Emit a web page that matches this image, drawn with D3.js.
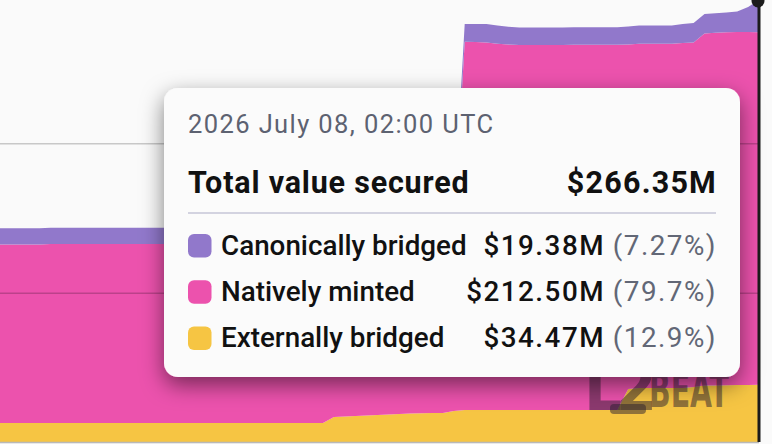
<!DOCTYPE html>
<html lang="en">
<head>
  <meta charset="UTF-8">
  <script src="https://d3js.org/d3.v7.min.js"></script>
  <title>Value secured</title>
  <style>
    body { margin: 0; background: #fafafa; }
    svg { display: block; font-family: Roboto, "Noto Sans", sans-serif; }
  </style>
</head>
<body>
  <svg width="772" height="444"></svg>
  <script>
    // hourly points, last one is the hovered point
    const startTime = new Date(Date.UTC(2026, 6, 5, 4));
    const endTime = new Date(Date.UTC(2026, 6, 8, 2));
    const times = d3.utcHour.range(startTime, d3.utcHour.offset(endTime, 1));

    // values in $M
    const externallyBridged = [
      11.45, 11.45, 11.45, 11.45, 11.45, 11.45, 11.45, 11.45, 11.45, 11.45,
      11.45, 11.45, 11.45, 11.45, 11.45, 11.45, 11.45, 11.45, 11.45, 11.45,
      11.45, 11.45, 11.45, 11.45, 11.45, 11.45, 11.45, 11.45, 11.45, 11.45,
      11.45, 15.06, 15.4, 15.7, 16.0, 16.3, 16.6, 16.9, 17.2, 17.3,
      17.5, 17.5, 18.7, 19.3, 19.3, 19.3, 19.3, 19.3, 19.3, 19.3,
      19.3, 19.3, 19.3, 19.3, 19.3, 19.3, 19.3, 19.3, 31.9, 32.5,
      32.5, 32.5, 32.5, 32.5, 33.1, 34.0, 34.1, 34.2, 34.3, 34.4,
      34.47
    ];
    const nativelyMinted = [
      107.55, 107.55, 107.55, 107.55, 107.55, 107.8, 107.8, 107.8, 107.8, 107.8,
      107.8, 107.8, 107.8, 107.8, 107.8, 107.8, 107.8, 107.8, 107.8, 107.8,
      107.8, 107.8, 107.8, 107.8, 107.8, 107.8, 107.8, 107.8, 107.8, 107.8,
      107.8, 107.5, 107.5, 107.5, 107.5, 107.5, 107.5, 107.5, 107.5, 107.5,
      107.5, 107.5, 107.5, 221.9, 221.7, 221.4, 220.7, 220.3, 220.0, 220.0,
      220.0, 220.0, 220.0, 220.1, 220.1, 220.1, 220.1, 220.1, 207.7, 207.5,
      207.5, 207.5, 207.5, 207.9, 207.6, 212.2, 212.5, 212.7, 212.8, 212.7,
      212.50
    ];
    const canonicallyBridged = [
      9.8, 9.8, 9.8, 9.8, 9.8, 9.8, 9.8, 9.8, 9.8, 9.8,
      9.8, 9.8, 9.8, 9.8, 9.8, 9.8, 9.8, 9.8, 9.8, 9.8,
      9.8, 9.8, 9.8, 9.8, 9.8, 9.8, 9.8, 9.8, 9.8, 9.8,
      9.8, 9.8, 9.8, 9.8, 9.8, 9.8, 9.8, 9.8, 9.8, 9.8,
      9.8, 9.8, 9.8, 10.7, 10.9, 11.2, 11.0, 10.6, 10.5, 10.5,
      10.5, 10.5, 10.5, 10.6, 10.6, 10.6, 10.6, 10.6, 10.8, 11.0,
      11.0, 11.0, 11.0, 11.5, 11.8, 11.7, 11.7, 11.9, 12.3, 15.0,
      19.38
    ];

    const gridValues = [90, 180];
    const seriesKeys = ["external", "native", "canonical"];
    const seriesColors = { external: "#f6c543", native: "#ec52ad", canonical: "#9178cb" };

    const tooltipDate = "2026 July 08, 02:00 UTC";
    const tooltipTitle = "Total value secured";
    const tooltipRows = [
      { key: "canonical", label: "Canonically bridged", values: canonicallyBridged, pct: "(7.27%)" },
      { key: "native", label: "Natively minted", values: nativelyMinted, pct: "(79.7%)" },
      { key: "external", label: "Externally bridged", values: externallyBridged, pct: "(12.9%)" }
    ];

    const rows = times.map((t, i) => ({
      time: t,
      external: externallyBridged[i],
      native: nativelyMinted[i],
      canonical: canonicallyBridged[i]
    }));

    const stacked = d3.stack().keys(seriesKeys)(rows);
    const last = rows[rows.length - 1];
    const lastTotal = last.external + last.native + last.canonical;

    const x = d3.scaleUtc().domain(d3.extent(times)).range([-4, 759]);
    const y = d3.scaleLinear().domain([0, lastTotal]).range([442, 0]);

    const svg = d3.select("svg");

    const defs = svg.append("defs");
    const shadow = defs.append("filter").attr("id", "shadow")
      .attr("x", "-20%").attr("y", "-20%").attr("width", "140%").attr("height", "150%");
    shadow.append("feDropShadow")
      .attr("dx", 0).attr("dy", 8).attr("stdDeviation", 11)
      .attr("flood-color", "#000").attr("flood-opacity", 0.5);

    const area = d3.area()
      .x(d => x(d.data.time))
      .y0(d => y(d[0]))
      .y1(d => y(d[1]));

    svg.append("g").selectAll("path")
      .data(stacked)
      .join("path")
      .attr("d", area)
      .attr("fill", d => seriesColors[d.key]);

    // grid lines on top of the areas
    svg.append("g").selectAll("line")
      .data(gridValues)
      .join("line")
      .attr("x1", 0).attr("x2", 759)
      .attr("y1", d => y(d) + 0.5).attr("y2", d => y(d) + 0.5)
      .attr("stroke", "rgba(0,0,0,0.2)")
      .attr("stroke-width", 1.5);

    svg.append("line")
      .attr("x1", 0).attr("x2", 759)
      .attr("y1", y(0) + 0.5).attr("y2", y(0) + 0.5)
      .attr("stroke", "#b9b9b9").attr("stroke-width", 1.5);

    // watermark
    const logo = svg.append("g")
      .attr("fill", "#2a2030").attr("fill-opacity", 0.5)
      .style("font-family", "'DejaVu Sans Condensed', 'Liberation Sans Narrow', sans-serif")
      .style("font-weight", "bold");
    logo.append("text").attr("x", 584).attr("y", 410).attr("font-size", 66)
      .attr("letter-spacing", -6).text("L2");
    logo.append("rect").attr("x", 610).attr("y", 404).attr("width", 36).attr("height", 10).attr("rx", 4);
    logo.append("text").attr("x", 649).attr("y", 407).attr("font-size", 48)
      .attr("textLength", 80).attr("lengthAdjust", "spacingAndGlyphs").text("BEAT");

    // hover indicator
    const hx = x(last.time);
    svg.append("line")
      .attr("x1", hx).attr("x2", hx).attr("y1", 0).attr("y2", y(0))
      .attr("stroke", "#1b1b1b").attr("stroke-width", 3);
    svg.append("circle")
      .attr("cx", hx - 1).attr("cy", y(lastTotal) + 1).attr("r", 6.5)
      .attr("fill", "#1b1b1b");

    // tooltip
    const tip = svg.append("g");
    tip.append("rect")
      .attr("x", 164).attr("y", 88).attr("width", 576).attr("height", 289)
      .attr("rx", 14)
      .attr("fill", "#fbfbfb")
      .attr("filter", "url(#shadow)");

    tip.append("text")
      .attr("x", 188).attr("y", 133)
      .attr("font-size", 25.5).attr("letter-spacing", 1.4).attr("fill", "#5d6271")
      .text(tooltipDate);

    tip.append("text")
      .attr("x", 188).attr("y", 193)
      .attr("font-size", 30.5).attr("font-weight", 700).attr("letter-spacing", 0.8).attr("fill", "#111")
      .text(tooltipTitle);
    tip.append("text")
      .attr("x", 717).attr("y", 193).attr("text-anchor", "end")
      .attr("font-size", 30.5).attr("font-weight", 700).attr("letter-spacing", 1.2).attr("fill", "#111")
      .text("$" + d3.format(".2f")(lastTotal) + "M");

    tip.append("line")
      .attr("x1", 188).attr("x2", 716).attr("y1", 213).attr("y2", 213)
      .attr("stroke", "#d3d3e0").attr("stroke-width", 2);

    const n = rows.length - 1;
    const row = tip.selectAll("g.row")
      .data(tooltipRows)
      .join("g")
      .attr("class", "row")
      .attr("transform", (d, i) => `translate(0,${255 + i * 46.2})`);

    row.append("rect")
      .attr("x", 188).attr("y", -21).attr("width", 23.5).attr("height", 23.5).attr("rx", 6)
      .attr("fill", d => seriesColors[d.key]);
    row.append("text")
      .attr("x", 221).attr("y", 0)
      .attr("font-size", 27.8).attr("font-weight", 500).attr("fill", "#111")
      .text(d => d.label);
    row.append("text")
      .attr("x", 605).attr("y", 0).attr("text-anchor", "end")
      .attr("font-size", 27.8).attr("font-weight", 500).attr("letter-spacing", 1.5).attr("fill", "#111")
      .text(d => "$" + d3.format(".2f")(d.values[n]) + "M");
    row.append("text")
      .attr("x", 717).attr("y", 0).attr("text-anchor", "end")
      .attr("font-size", 27.8).attr("letter-spacing", 1.5).attr("fill", "#626776")
      .text(d => d.pct);
  </script>
</body>
</html>
